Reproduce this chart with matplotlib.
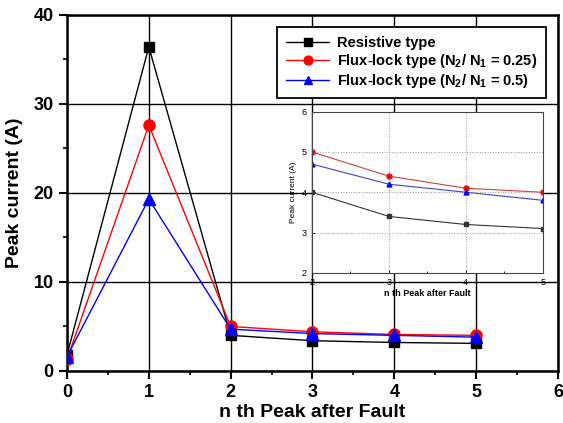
import numpy as np
import matplotlib
matplotlib.use('Agg')
import matplotlib.pyplot as plt
from matplotlib.ticker import MultipleLocator

plt.rcParams['font.family'] = ['Liberation Sans', 'DejaVu Sans']
plt.rcParams['mathtext.fontset'] = 'custom'
plt.rcParams['mathtext.rm'] = 'Liberation Sans:bold'
plt.rcParams['mathtext.default'] = 'rm'

# Data
peaks = [0, 1, 2, 3, 4, 5]
resistive = [1.8, 36.4, 4.0, 3.4, 3.2, 3.1]
flux_025 = [1.3, 27.6, 5.0, 4.4, 4.1, 4.0]
flux_05 = [1.6, 19.3, 4.7, 4.2, 4.0, 3.8]

labels = ['Resistive type',
          'Flux-lock type (N$_{2}$/ N$_{1}$ = 0.25)',
          'Flux-lock type (N$_{2}$/ N$_{1}$ = 0.5)']

fig = plt.figure(figsize=(5.63, 4.23), dpi=100)
ax = fig.add_axes([0.119, 0.123, 0.872, 0.842])

ax.plot(peaks, resistive, color='black', marker='s', ms=7, lw=1, label=labels[0], zorder=3)
ax.plot(peaks, flux_025, color='red', marker='o', ms=8, lw=1, label=labels[1], zorder=3)
ax.plot(peaks, flux_05, color='blue', marker='^', ms=8, lw=1, label=labels[2], zorder=3)

ax.set_xlim(0, 6)
ax.set_ylim(0, 40)
ax.xaxis.set_major_locator(MultipleLocator(1))
ax.xaxis.set_minor_locator(MultipleLocator(0.5))
ax.yaxis.set_major_locator(MultipleLocator(10))
ax.yaxis.set_minor_locator(MultipleLocator(5))
ax.tick_params(which='major', direction='out', length=6, width=1.5, labelsize=13)
ax.tick_params(which='minor', direction='out', length=3, width=1.2)
for lab in ax.get_xticklabels() + ax.get_yticklabels():
    lab.set_fontweight('bold')
for s in ax.spines.values():
    s.set_linewidth(1.8)
ax.grid(True, which='major', color='black', lw=1, zorder=0)
ax.set_xlabel('n th Peak after Fault', fontsize=14, fontweight='bold', labelpad=2)
ax.set_ylabel('Peak current (A)', fontsize=14, fontweight='bold', labelpad=8)

leg = ax.legend(loc='upper right', bbox_to_anchor=(0.99, 0.985),
                prop={'weight': 'bold', 'size': 10.5}, fancybox=False,
                edgecolor='black', framealpha=1, handlelength=3.0, borderpad=0.6,
                labelspacing=0.12, markerscale=0.8, handletextpad=0.5)
leg.get_frame().set_linewidth(1.3)

# Inset
ins = fig.add_axes([0.554, 0.355, 0.410, 0.381])
ins.plot(peaks[2:], resistive[2:], color='#333333', marker='s', ms=3, lw=0.8)
ins.plot(peaks[2:], flux_025[2:], color='#d04040', marker='o', ms=3.5, lw=0.8, mfc='red', mec='red')
ins.plot(peaks[2:], flux_05[2:], color='#4040d0', marker='^', ms=3.5, lw=0.8, mfc='blue', mec='blue')
ins.set_xlim(2, 5)
ins.set_ylim(2, 6)
ins.xaxis.set_major_locator(MultipleLocator(1))
ins.xaxis.set_minor_locator(MultipleLocator(0.5))
ins.yaxis.set_major_locator(MultipleLocator(1))
ins.tick_params(which='both', direction='in', labelsize=6.5, length=2, width=0.6, pad=4)
ins.tick_params(which='minor', length=1.5)
ins.grid(True, which='major', color='#999999', ls=':', lw=0.7)
for s in ins.spines.values():
    s.set_linewidth(0.8)
    s.set_color('#444444')
ins.set_xlabel('n th Peak after Fault', fontsize=6.5, fontweight='bold', labelpad=1)
ins.set_ylabel('Peak current (A)', fontsize=6, labelpad=3)

fig.savefig('out.png', dpi=100)
